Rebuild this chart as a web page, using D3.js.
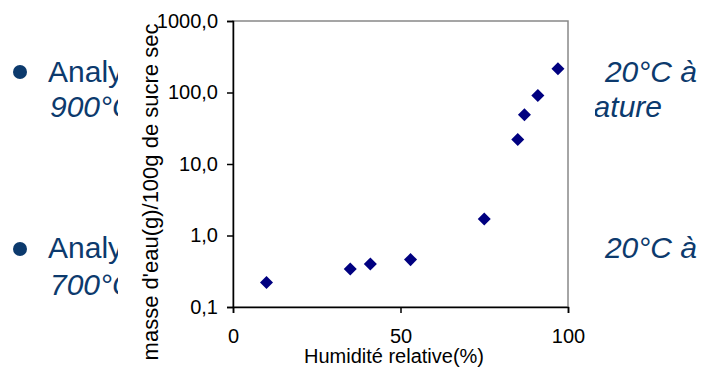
<!DOCTYPE html>
<html>
<head>
<meta charset="utf-8">
<script src="https://cdn.jsdelivr.net/npm/d3@7"></script>
<style>
  body { margin: 0; background: #fff; }
  svg { display: block; font-family: "Liberation Sans", Arial, sans-serif; }
</style>
</head>
<body>
<figure id="chart" style="margin:0"></figure>
<script>
// humidity (%) vs water content (g / 100g dry sugar)
const humidity = [10, 35, 41, 53, 75, 85, 87, 91, 97];
const water = [0.22, 0.34, 0.40, 0.46, 1.7, 22, 49, 91, 215];
const xTicks = [0, 50, 100];
const yTicks = [0.1, 1, 10, 100, 1000];
const xTitle = "Humidité relative(%)";
const yTitle = "masse d'eau(g)/100g de sucre sec";

const width = 704, height = 376;
const plot = { left: 233, right: 568, top: 21, bottom: 307 };

const svg = d3.select("figure#chart")
  .append("svg")
  .attr("width", width)
  .attr("height", height);

// slide text sitting behind the chart
const slideColor = "#0c3a6d";
const slide = svg.append("g")
  .attr("fill", slideColor)
  .style("font-size", "30px");

[[72, 82, 117, "900°C"], [249, 258, 295, "700°C"]].forEach(([cy, y1, y2, t]) => {
  slide.append("circle").attr("cx", 20).attr("cy", cy).attr("r", 7);
  slide.append("text").attr("x", 48).attr("y", y1).text("Analyse");
  slide.append("text").attr("x", 50).attr("y", y2)
    .style("font-style", "italic").text(t);
  slide.append("text").attr("x", 697).attr("y", y1)
    .attr("text-anchor", "end").style("font-style", "italic").text("20°C à");
});
slide.append("text").attr("x", 662).attr("y", 117)
  .attr("text-anchor", "end").style("font-style", "italic").text("température");

// chart area covers the slide
svg.append("rect")
  .attr("x", 118).attr("y", 0)
  .attr("width", 595 - 118).attr("height", height)
  .attr("fill", "#fff");

const x = d3.scaleLinear()
  .domain([0, 100])
  .range([plot.left, plot.right]);

const y = d3.scaleLog()
  .domain([0.1, 1000])
  .range([plot.bottom, plot.top]);

// plot area border (grey top/right)
svg.append("rect")
  .attr("x", plot.left).attr("y", plot.top)
  .attr("width", plot.right - plot.left)
  .attr("height", plot.bottom - plot.top)
  .attr("fill", "none")
  .attr("stroke", "#888")
  .attr("stroke-width", 1.5);

const fmt = d => d3.format(".1f")(d).replace(".", ",");

const gx = svg.append("g")
  .attr("transform", "translate(0," + plot.bottom + ")")
  .call(d3.axisBottom(x).tickValues(xTicks).tickSizeOuter(0).tickSize(6).tickPadding(16));
gx.selectAll("text").style("font-size", "20px").attr("fill", "#000");

const gy = svg.append("g")
  .attr("transform", "translate(" + plot.left + ",0)")
  .call(d3.axisLeft(y).tickValues(yTicks).tickFormat(fmt).tickSizeOuter(0).tickSize(6).tickPadding(9));
gy.selectAll("text").style("font-size", "20px").attr("fill", "#000");

svg.selectAll(".domain, .tick line").attr("stroke", "#000").attr("stroke-width", 1.5);

svg.append("text")
  .attr("x", 394).attr("y", 363)
  .attr("text-anchor", "middle")
  .style("font-size", "20px")
  .text(xTitle);

svg.append("text")
  .attr("transform", "translate(158,192)rotate(-90)")
  .attr("text-anchor", "middle")
  .style("font-size", "22px")
  .text(yTitle);

// diamonds
svg.selectAll("path.pt")
  .data(humidity)
  .enter()
  .append("path")
  .attr("class", "pt")
  .attr("d", d3.symbol(d3.symbolSquare, 85))
  .attr("transform", (d, i) => "translate(" + x(d) + "," + y(water[i]) + ")rotate(45)")
  .attr("fill", "#000080");
</script>
</body>
</html>
